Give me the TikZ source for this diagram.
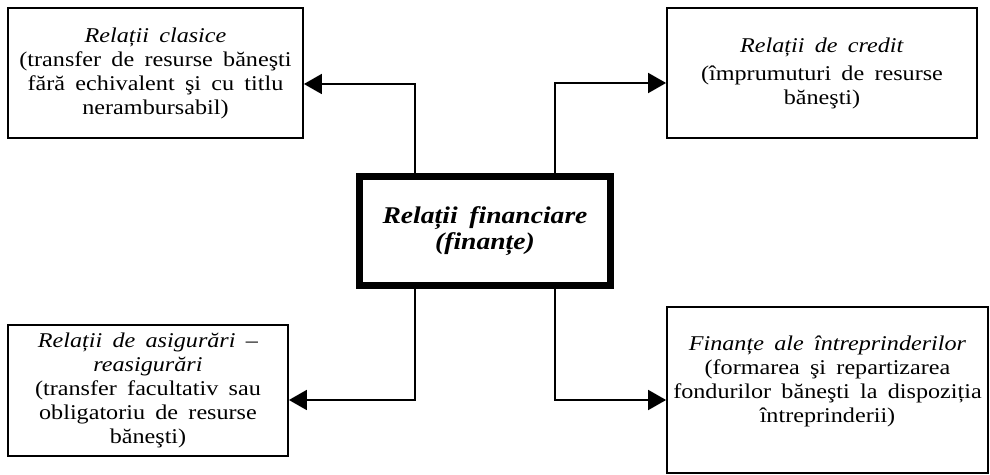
\documentclass[tikz,border=0pt]{standalone}
\usepackage{fontspec}
\setmainfont{Liberation Serif}[FakeStretch=1.15,WordSpace=1.7]
\usetikzlibrary{arrows.meta}
\begin{document}
\begin{tikzpicture}[x=0.5pt,y=-0.5pt,
  box/.style={draw=black,line width=0.9pt,inner sep=0pt,align=center,
    font=\fontsize{10.5}{12}\selectfont},
  txt/.style={inner sep=0pt,align=center,font=\fontsize{10.5}{12}\selectfont},
  mainbox/.style={draw=black,line width=3.5pt,inner sep=0pt,align=center,
    font=\fontsize{12}{13}\selectfont\bfseries\itshape},
  arr/.style={line width=0.9pt,-{Triangle[length=9pt,width=10pt]}}]
\useasboundingbox (0,0) rectangle (990,475);
\node[mainbox,minimum width=125.5pt,minimum height=54.5pt] (c) at (485,231)
  {Relații financiare\\(finanțe)};
\node[box,minimum width=147.5pt,minimum height=65pt] (b1) at (155.5,73)
  {\textit{Relații clasice}\\(transfer de resurse băneşti\\fără echivalent şi cu titlu\\nerambursabil)};
\node[box,minimum width=155pt,minimum height=65pt] (b2) at (822,73)
  {\textit{Relații de credit}\\[2pt](împrumuturi de resurse\\băneşti)};
\node[box,minimum width=140pt,minimum height=65.5pt] (b3) at (148,390.5)
  {\textit{Relații de asigurări –}\\\textit{reasigurări}\\(transfer facultativ sau\\obligatoriu de resurse\\băneşti)};
\node[box,minimum width=160.5pt,minimum height=83pt] (b4) at (827.5,390) {};
\node[txt] (t4) at (827.5,381)
  {\textit{Finanțe ale întreprinderilor}\\(formarea şi repartizarea\\fondurilor băneşti la dispoziția\\întreprinderii)};
\draw[arr] ([xshift=29.5pt]c.north west) |- ([yshift=-5.5pt]b1.east);
\draw[arr] ([xshift=-29.5pt]c.north east) |- ([yshift=-5pt]b2.west);
\draw[arr] ([xshift=29.5pt]c.south west) |- ([yshift=-4.75pt]b3.east);
\draw[arr] ([xshift=-29.5pt]c.south east) |- ([yshift=-5pt]b4.west);
\end{tikzpicture}
\end{document}
